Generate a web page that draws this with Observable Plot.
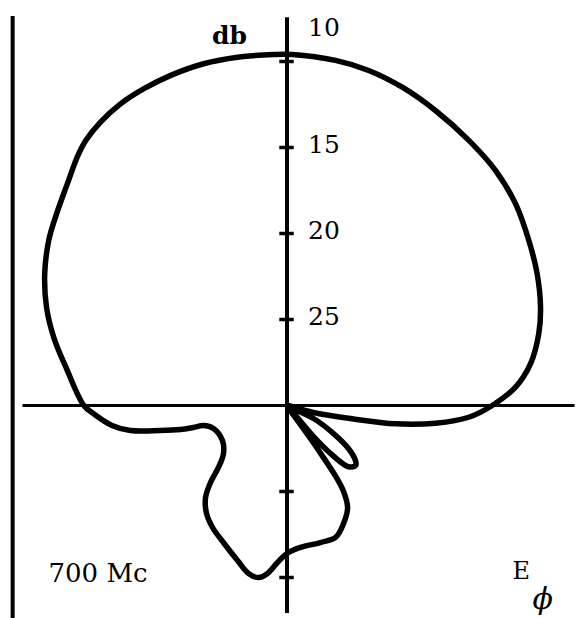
<!DOCTYPE html>
<html>
<head>
<meta charset="utf-8">
<script src="https://cdn.jsdelivr.net/npm/d3@7"></script>
<script src="https://cdn.jsdelivr.net/npm/@observablehq/plot@0.6"></script>
<style>
  html, body { margin: 0; padding: 0; background: #fff; }
  #chart svg { display: block; }
</style>
</head>
<body>
<div id="chart"></div>
<script>
// Measured E-phi radiation pattern at 700 Mc.
// Azimuth in degrees, clockwise from the upward axis; level in db below reference.
const azimuthDeg = [
  0.85, 8.0, 13.7, 19.9, 26.7, 34.5, 41.6, 48.6, 55.7, 62.2, 68.8, 74.1, 80.3, 85.4,
  90.0, 93.7, 96.8, 99.6, 101.5, 104.9, 112,
  116.1, 121.1, 125.0, 128.8, 131.0, 134.0, 135.7, 137.8, 139.5, 141,
  144.5, 145.0, 145.5, 146.5, 149.3, 154.4, 159.8, 166.3, 174.6, 180.0, 183.5, 186.6,
  189.4, 192.9, 197.7, 204.9, 211.4, 216.7, 221.5, 224.8, 227.9, 232.9, 241.5, 252.6,
  256.5, 256.8, 257.3, 258.8, 260.9, 263.5, 267.6, 270.0,
  279.1, 286.3, 292.2, 298.5, 304.7, 309.1, 315.3, 320.1, 322.8, 326.6, 331.1, 335.7,
  340.6, 346.3, 351.9, 357.8
];
const levelDb = [
  9.59, 9.74, 9.95, 10.32, 10.80, 11.31, 11.73, 12.28, 12.98, 13.56, 14.19, 14.78, 15.64, 16.67,
  18.07, 19.41, 21.30, 23.60, 26.13, 28.48, 30,
  28.28, 26.84, 25.64, 24.89, 24.70, 24.85, 25.13, 26.23, 27.6, 30,
  27.6, 26.3, 25.0, 24.1, 23.10, 22.39, 21.83, 21.80, 21.71, 21.40, 20.85, 20.17,
  19.86, 19.98, 20.54, 21.22, 21.69, 22.17, 22.85, 23.69, 24.63, 25.37, 25.73, 25.52,
  25.01, 24.41, 23.65, 22.50, 20.78, 19.76, 18.74, 18.19,
  17.06, 15.87, 14.90, 13.97, 13.15, 12.65, 11.85, 11.05, 10.65, 10.28, 9.97, 9.79,
  9.65, 9.55, 9.55, 9.58
];

// Radial scale: the centre of the plot is the 30 db floor.
const floorDb = 30;
const ringLabels = [10, 15, 20, 25];
const lowerRingTicks = [25, 20];
const frequencyLabel = "700 Mc";
const unitLabel = "db";

const W = 579, H = 618;
const pxPerDb = 17.2;
const originX = 286.5, originY = 405;

const pattern = azimuthDeg.map((a, i) => {
  const r = floorDb - levelDb[i];
  const t = a * Math.PI / 180;
  return {x: r * Math.sin(t), y: r * Math.cos(t)};
});

const font = "'DejaVu Serif', 'Liberation Serif', serif";

const chart = Plot.plot({
  width: W,
  height: H,
  margin: 0,
  x: {domain: [-originX / pxPerDb, (W - originX) / pxPerDb], range: [0, W], axis: null},
  y: {domain: [-(H - originY) / pxPerDb, originY / pxPerDb], range: [H, 0], axis: null},
  style: {background: "#fff", color: "#000"},
  marks: [
    // left frame line
    Plot.ruleX([-15.95], {y1: -12.4, y2: 22.62, stroke: "#000", strokeWidth: 4}),
    // horizontal and vertical axes through the origin
    Plot.ruleY([0], {x1: -15.35, x2: 16.75, stroke: "#000", strokeWidth: 3}),
    Plot.ruleX([0], {y1: -12.1, y2: 22.55, stroke: "#000", strokeWidth: 4}),
    // db ticks on the vertical axis
    Plot.ruleY(ringLabels, {y: d => floorDb - d, x1: -0.42, x2: 0.42, stroke: "#000", strokeWidth: 3.5}),
    Plot.ruleY(lowerRingTicks, {y: d => -(floorDb - d), x1: -0.42, x2: 0.42, stroke: "#000", strokeWidth: 3.5}),
    // the pattern itself
    Plot.line(pattern, {x: "x", y: "y", curve: "catmull-rom-closed", stroke: "#000", strokeWidth: 5.5, strokeLinejoin: "round"}),
    // tick labels
    Plot.text(ringLabels.slice(1), {x: 0, y: d => floorDb - d, text: d => String(d), dx: 21, dy: -3,
      textAnchor: "start", lineAnchor: "middle", fontSize: 25, fontFamily: font, fill: "#000"}),
    Plot.text(ringLabels.slice(0, 1), {x: 0, y: d => floorDb - d, text: d => String(d), dx: 21, dy: -34,
      textAnchor: "start", lineAnchor: "middle", fontSize: 25, fontFamily: font, fill: "#000"}),
    Plot.text([unitLabel], {x: 0, y: floorDb - ringLabels[0], text: d => d, dx: -40, dy: -26,
      textAnchor: "end", lineAnchor: "middle", fontSize: 25, fontWeight: "bold", fontFamily: font, fill: "#000"}),
    // frequency and polarization annotations
    Plot.text([frequencyLabel], {frameAnchor: "bottom-left", text: d => d, dx: 48, dy: -37,
      textAnchor: "start", lineAnchor: "bottom", fontSize: 26, fontFamily: font, fill: "#000"}),
    Plot.text(["E"], {frameAnchor: "bottom-right", text: d => d, dx: -67, dy: -40,
      textAnchor: "start", lineAnchor: "bottom", fontSize: 24, fontFamily: font, fill: "#000"}),
    Plot.text(["\u03D5"], {frameAnchor: "bottom-right", text: d => d, dx: -47, dy: -10,
      textAnchor: "start", lineAnchor: "bottom", fontSize: 30, fontStyle: "italic", fontFamily: font, fill: "#000"})
  ]
});

document.getElementById("chart").appendChild(chart);
</script>
</body>
</html>
